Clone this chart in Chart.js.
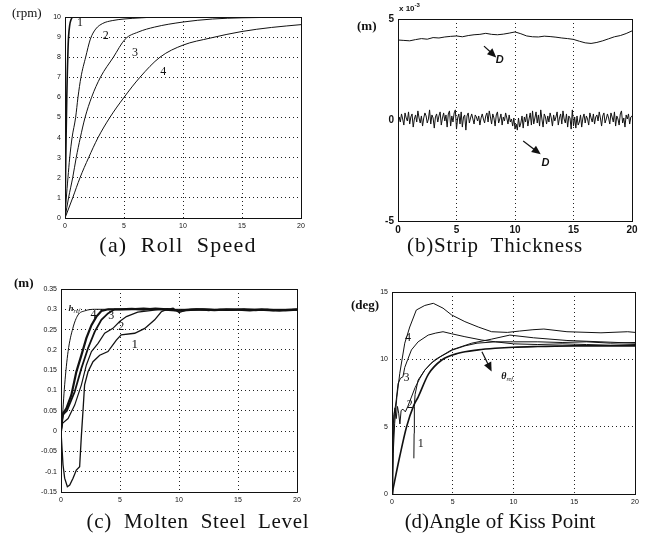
<!DOCTYPE html>
<html>
<head>
<meta charset="utf-8">
<script src="https://cdn.jsdelivr.net/npm/chart.js@4.4.1/dist/chart.umd.min.js"></script>
<style>
  body { margin: 0; background: #fff; width: 653px; height: 546px; position: relative; overflow: hidden; }
  canvas { position: absolute; }
  .title { position: absolute; font-family: "Liberation Serif", "Times New Roman", serif; font-size: 21px;
           white-space: pre; color: #111; transform: translate(-50%, -50%); }
  .unit { position: absolute; font-family: "Liberation Serif", "Times New Roman", serif; font-size: 13px;
          white-space: pre; color: #111; }
  .sci { position: absolute; font-family: "Liberation Sans", Arial, sans-serif; font-size: 8px; font-weight: bold; color: #111; }
  .sci sup { font-size: 6px; }
</style>
</head>
<body>
<canvas id="speed" width="320" height="236" style="left:0;top:0"></canvas>
<canvas id="thick" width="323" height="236" style="left:330px;top:0"></canvas>
<canvas id="level" width="320" height="248" style="left:0;top:262px"></canvas>
<canvas id="angle" width="323" height="248" style="left:330px;top:262px"></canvas>

<div class="unit" style="left:12px;top:5px">(rpm)</div>
<div class="unit" style="left:357px;top:18px;font-weight:bold">(m)</div>
<div class="sci" style="left:399px;top:2px">x 10<sup>-3</sup></div>
<div class="unit" style="left:14px;top:275px;font-weight:bold">(m)</div>
<div class="unit" style="left:351px;top:297px;font-weight:bold">(deg)</div>

<div class="title" style="left:178px;top:245px;font-size:22px;letter-spacing:1.2px">(a)  Roll  Speed</div>
<div class="title" style="left:495px;top:245px;letter-spacing:0.8px">(b)Strip  Thickness</div>
<div class="title" style="left:198px;top:521px;letter-spacing:0.7px">(c)  Molten  Steel  Level</div>
<div class="title" style="left:500px;top:521px">(d)Angle of Kiss Point</div>

<script>
const INK = '#111';

// ----------- (a) Roll speed, rpm ----------- //
const speed1X = [0, 0.05, 0.1, 0.15, 0.2, 0.25, 0.3, 0.4, 0.5, 0.7, 1, 20];
const speed1Y = [0, 2.2, 4.3, 6.0, 7.3, 8.3, 9.0, 9.6, 9.85, 10, 10, 10];
const speed2X = [0, 0.1, 0.25, 0.4, 0.6, 0.9, 1.1, 1.35, 1.75, 2.15, 2.6, 3.2, 4.0, 5.0, 6.5, 8, 20];
const speed2Y = [0, 0.9, 2.0, 3.0, 4.0, 5.0, 6.0, 7.0, 8.0, 8.9, 9.4, 9.68, 9.82, 9.9, 9.96, 10, 10];
const speed3X = [0, 0.3, 0.65, 0.95, 1.3, 1.7, 2.25, 3.0, 4.1, 5.1, 6.2, 7.6, 10, 12.5, 15, 20];
const speed3Y = [0, 1, 2, 3, 4, 5, 6, 7, 8, 8.9, 9.25, 9.5, 9.75, 9.9, 9.96, 10];
const speed4X = [0, 0.65, 1.27, 2.0, 2.8, 3.8, 5.0, 6.35, 8.05, 10, 12.3, 15, 17.5, 20];
const speed4Y = [0, 1, 2, 3, 4, 5, 6, 7, 8, 8.6, 8.95, 9.28, 9.48, 9.62];

// ----------- (b) Strip thickness, x 1e-3 m ----------- //
const thickStep = 0.5;   // s between samples of the upper trace
const thickTop = [3.96, 3.94, 3.92, 3.98, 4.03, 4.0, 4.08, 4.06, 4.11, 4.14, 4.16, 4.12, 4.18, 4.22,
  4.24, 4.29, 4.24, 4.22, 4.25, 4.3, 4.36, 4.27, 4.16, 4.12, 4.11, 4.15, 4.13, 4.1, 4.06, 4.03,
  3.99, 3.9, 3.82, 3.79, 3.84, 3.92, 4.02, 4.12, 4.18, 4.28, 4.41];
const noiseStep = 0.1;   // s between samples of the deviation trace
const thickDev = [
  -0.3, 0.15, -0.1, 0.3, 0.05, -0.25, 0.35, 0.1, -0.05, 0.4, -0.2, 0.15, 0.3, -0.35, 0.05, 0.25, -0.1, 0.45, 0.1, -0.15,
  0.2, -0.3, 0.1, 0.35, 0.2, -0.15, 0.05, 0.5, -0.2, 0.25, 0.1, -0.4, 0.15, 0.3, -0.1, 0.2, 0.4, -0.25, 0.1, 0.35,
  -0.05, 0.25, -0.35, 0.3, 0.45, -0.3, 0.2, -0.1, 0.35, 0.5, -0.45, 0.1, 0.3, -0.2, 0.4, -0.35, 0.15, 0.25, -0.5, 0.2,
  0.35, -0.15, 0.1, 0.3, 0.05, -0.2, 0.25, 0.15, -0.05, 0.2, -0.25, 0.1, 0.3, 0.05, -0.15, 0.2, 0.35, -0.1, 0.45, 0.15,
  -0.2, 0.3, 0.1, -0.3, 0.25, 0.4, -0.15, 0.05, 0.3, -0.25, 0.15, -0.05, 0.35, 0.1, -0.2, 0.25, -0.1, 0.05, -0.3, 0.1,
  -0.45, -0.2, -0.5, 0.1, -0.35, -0.15, 0.2, -0.4, 0.15, -0.1, 0.3, -0.3, 0.05, 0.35, -0.25, 0.45, -0.2, 0.1, 0.4, -0.15,
  0.25, -0.3, 0.5, 0.05, -0.35, 0.3, 0.15, -0.2, 0.2, -0.1, 0.35, 0.1, -0.3, 0.25, -0.05, 0.15, 0.4, -0.25, 0.1, 0.3,
  -0.2, 0.45, 0.05, -0.15, 0.3, -0.35, 0.2, 0.1, -0.45, 0.5, -0.3, 0.15, -0.4, 0.2, -0.25, -0.1, 0.25, -0.35, 0.1, 0.3,
  -0.15, 0.2, 0.05, -0.25, 0.35, 0.1, -0.1, 0.3, -0.2, 0.15, 0.25, -0.05, 0.4, 0.1, -0.3, 0.2, 0.35, -0.15, 0.05, 0.3,
  0.1, -0.2, 0.35, 0.15, -0.1, 0.4, -0.3, 0.2, 0.05, -0.25, 0.3, 0.45, -0.15, 0.1, -0.35, 0.25, 0.05, 0.3, -0.2, 0.15,
  0.2];

// ----------- (c) Molten steel level, m ----------- //
const levelRefX = [0, 0.08, 0.31, 0.6, 1.0, 1.44, 2.0, 2.86, 20];
const levelRefY = [0, 0.02, 0.114, 0.196, 0.253, 0.286, 0.296, 0.3, 0.3];
const level1X = [0, 0.17, 0.31, 0.54, 0.74, 1.02, 1.3, 1.58, 1.73, 1.86, 2.0, 2.29, 2.71, 3.28, 3.98, 4.69, 5.1,
  6.25, 7.1, 7.94, 8.5, 9.0, 9.5, 10.0, 10.6, 11.5, 12.5, 13.5, 14.5, 15.5, 16.5, 17.5, 18.5, 19.5, 20];
const level1Y = [0, -0.083, -0.116, -0.137, -0.133, -0.116, -0.096, -0.088, -0.01, 0.048, 0.114, 0.146, 0.171,
  0.187, 0.196, 0.224, 0.237, 0.241, 0.253, 0.274, 0.294, 0.3, 0.303, 0.292, 0.298, 0.301, 0.297, 0.3, 0.298,
  0.301, 0.297, 0.3, 0.296, 0.299, 0.298];
const level2X = [0, 0.15, 0.6, 1.16, 1.73, 2.15, 2.58, 3.14, 3.7, 4.4, 4.97, 5.54, 6.5, 7.9, 9, 10, 11, 13, 15, 17, 20];
const level2Y = [0, 0.02, 0.031, 0.064, 0.114, 0.163, 0.196, 0.216, 0.241, 0.253, 0.27, 0.282, 0.293, 0.298,
  0.302, 0.297, 0.3, 0.299, 0.3, 0.298, 0.3];
const level3X = [0, 0.15, 0.5, 1.16, 1.73, 2.29, 2.86, 3.42, 3.98, 4.55, 5.5, 7, 8.5, 10, 12, 14, 16, 18, 20];
const level3Y = [0, 0.04, 0.05, 0.097, 0.155, 0.204, 0.245, 0.274, 0.29, 0.3, 0.3, 0.302, 0.299, 0.296, 0.3,
  0.298, 0.3, 0.297, 0.3];
const level4X = [0, 0.1, 0.2, 0.46, 0.88, 1.3, 1.73, 2.15, 2.58, 3.0, 3.42, 4.0, 5, 6, 7, 8, 9, 10, 11, 12, 13,
  14, 15, 16, 17, 18, 19, 20];
const level4Y = [0, 0.03, 0.045, 0.056, 0.089, 0.146, 0.187, 0.229, 0.261, 0.282, 0.296, 0.3, 0.3, 0.301, 0.299,
  0.302, 0.3, 0.297, 0.299, 0.3, 0.298, 0.3, 0.299, 0.297, 0.3, 0.298, 0.297, 0.299];

// ----------- (d) Angle of kiss point, deg ----------- //
const angleRefX = [0, 0.64, 1.2, 1.8, 2.15, 3.0, 4.1, 5.45, 7.1, 8.5, 10, 12, 15, 20];
const angleRefY = [0, 2.8, 5.0, 6.6, 7.2, 8.9, 9.95, 10.45, 10.7, 10.82, 10.9, 10.95, 11.0, 11.0];
const angle1X = [1.8, 1.82, 1.84, 1.9, 2.15, 2.7, 3.5, 4.9, 6.56, 8.2, 9.7, 11.65, 14.4, 17.2, 20];
const angle1Y = [2.65, 4.5, 6.5, 7.4, 8.46, 9.2, 9.95, 10.7, 11.2, 11.5, 11.8, 11.6, 11.4, 11.3, 11.2];
const angle2X = [0, 0.08, 0.15, 0.25, 0.35, 0.45, 0.55, 0.65, 0.75, 0.9, 1.1, 1.3, 1.6, 1.9, 2.3, 2.7, 3.2, 4,
  5, 6, 7, 8.5, 10, 12, 14, 16, 18, 20];
const angle2Y = [0, 4.5, 5.9, 6.4, 5.6, 6.5, 6.0, 5.2, 6.2, 6.3, 6.1, 6.5, 7.2, 7.9, 8.6, 9.2, 9.7, 10.2, 10.7,
  11.0, 11.2, 11.3, 11.3, 11.3, 11.25, 11.3, 11.2, 11.25];
const angle3X = [0, 0.1, 0.2, 0.35, 0.5, 0.7, 0.9, 1.05, 1.3, 1.6, 2.15, 2.98, 3.6, 4.2, 4.9, 6.0, 7.4, 8.5, 10,
  12, 14, 16, 18, 20];
const angle3Y = [0, 4, 6.0, 7.0, 8.2, 8.6, 8.7, 9.4, 10.0, 10.7, 11.3, 11.8, 11.95, 12.05, 11.9, 11.68, 11.43,
  11.3, 11.15, 11.1, 11.15, 11.1, 11.05, 11.1];
const angle4X = [0, 0.1, 0.22, 0.4, 0.64, 1.05, 1.46, 2.0, 2.7, 3.4, 4.2, 4.9, 6.0, 7.1, 8.2, 9.5, 10.5, 11.6,
  12.5, 14.4, 17.2, 19.4, 20];
const angle4Y = [0, 3, 5.25, 7.2, 8.96, 11.2, 12.4, 13.66, 14.0, 14.16, 13.8, 13.3, 12.8, 12.4, 12.05, 12.0,
  12.1, 12.2, 12.25, 12.05, 11.97, 12.05, 12.0];


// ----------- helpers ----------- //
const pairs = (xs, ys) => xs.map((x, i) => ({x, y: ys[i]}));
const sampled = (step, ys) => ys.map((y, i) => ({x: i * step, y}));

const curve = (data, width = 1, smooth = false) => ({
  data,
  borderColor: INK,
  borderWidth: width,
  pointRadius: 0,
  fill: false,
  tension: 0,
  cubicInterpolationMode: smooth ? 'monotone' : 'default',
});

const framePlugin = {
  id: 'frame',
  afterDraw(chart) {
    const {ctx, chartArea: {left, top, right, bottom}} = chart;
    ctx.save();
    ctx.strokeStyle = INK;
    ctx.lineWidth = 1;
    ctx.strokeRect(Math.round(left) + 0.5, Math.round(top) + 0.5, Math.round(right - left), Math.round(bottom - top));
    ctx.restore();
  }
};

// labels and arrows placed in data units
const notesPlugin = (notes = [], arrows = []) => ({
  id: 'notes',
  afterDraw(chart) {
    const {ctx, scales: {x, y}} = chart;
    ctx.save();
    ctx.fillStyle = INK;
    ctx.strokeStyle = INK;
    arrows.forEach(a => {
      const x1 = x.getPixelForValue(a.from[0]), y1 = y.getPixelForValue(a.from[1]);
      const x2 = x.getPixelForValue(a.to[0]), y2 = y.getPixelForValue(a.to[1]);
      const ang = Math.atan2(y2 - y1, x2 - x1);
      const c = Math.cos(ang), s = Math.sin(ang);
      ctx.lineWidth = 1.2;
      ctx.beginPath();
      ctx.moveTo(x1, y1);
      ctx.lineTo(x2 - 6 * c, y2 - 6 * s);
      ctx.stroke();
      ctx.beginPath();
      ctx.moveTo(x2, y2);
      ctx.lineTo(x2 - 9 * c + 4 * s, y2 - 9 * s - 4 * c);
      ctx.lineTo(x2 - 9 * c - 4 * s, y2 - 9 * s + 4 * c);
      ctx.closePath();
      ctx.fill();
    });
    notes.forEach(n => {
      const px = x.getPixelForValue(n.x), py = y.getPixelForValue(n.y);
      ctx.font = n.font || '12px "Liberation Serif"';
      ctx.textAlign = 'center';
      ctx.textBaseline = 'middle';
      ctx.fillText(n.text, px, py);
      if (n.sub) {
        const w = ctx.measureText(n.text).width;
        ctx.font = n.subFont || 'italic 6px "Liberation Serif"';
        ctx.textAlign = 'left';
        ctx.fillText(n.sub, px + w / 2, py + 3);
      }
    });
    ctx.restore();
  }
});

const makeChart = (id, datasets, s) => new Chart(document.getElementById(id), {
  type: 'line',
  data: { datasets },
  options: {
    responsive: false,
    animation: false,
    events: [],
    layout: { padding: s.padding },
    plugins: { legend: { display: false }, tooltip: { enabled: false } },
    scales: {
      x: {
        type: 'linear', min: 0, max: 20,
        ticks: { stepSize: 5, font: s.font, color: INK, padding: s.xPad, maxRotation: 0, autoSkip: false },
        grid: { color: '#222', lineWidth: 1, drawTicks: false },
        border: { display: false, dash: [1, 3] },
        afterFit: scale => { scale.height = s.xHeight; }
      },
      y: {
        type: 'linear', min: s.yMin, max: s.yMax,
        ticks: { stepSize: s.yStep, font: s.font, color: INK, padding: 4, autoSkip: false,
                 callback: v => String(Math.round(v * 100) / 100) },
        grid: { display: s.yGrid !== false, color: '#222', lineWidth: 1, drawTicks: false },
        border: { display: false, dash: [1, 3] },
        afterFit: scale => { scale.width = s.yWidth; }
      }
    }
  },
  plugins: [framePlugin, notesPlugin(s.notes, s.arrows)]
});

const smallFont = { family: '"Liberation Sans", Arial, sans-serif', size: 7 };
const boldFont = { family: '"Liberation Sans", Arial, sans-serif', size: 10, weight: 'bold' };

makeChart('speed', [
  curve(pairs(speed1X, speed1Y), 1.6, true),
  curve(pairs(speed2X, speed2Y), 1, true),
  curve(pairs(speed3X, speed3Y), 1, true),
  curve(pairs(speed4X, speed4Y), 1, true),
], {
  padding: { top: 17, right: 19 }, yWidth: 65, xHeight: 18, xPad: 4,
  yMin: 0, yMax: 10, yStep: 1, font: smallFont,
  notes: [
    { x: 1.27, y: 9.7, text: '1' }, { x: 3.45, y: 9.05, text: '2' },
    { x: 5.93, y: 8.2, text: '3' }, { x: 8.33, y: 7.28, text: '4' },
  ],
});

makeChart('thick', [
  curve(sampled(thickStep, thickTop), 1),
  curve(sampled(noiseStep, thickDev), 1),
], {
  padding: { top: 19, right: 21 }, yWidth: 68, xHeight: 15, xPad: 3,
  yMin: -5, yMax: 5, yStep: 5, font: boldFont, yGrid: false,
  notes: [
    { x: 8.7, y: 2.95, text: 'D', font: 'italic bold 11px "Liberation Sans"' },
    { x: 12.6, y: -2.15, text: 'D', font: 'italic bold 11px "Liberation Sans"' },
  ],
  arrows: [
    { from: [7.35, 3.66], to: [8.4, 3.1] },
    { from: [10.7, -1.04], to: [12.2, -1.7] },
  ],
});

makeChart('level', [
  curve(pairs(levelRefX, levelRefY), 1, true),
  curve(pairs(level1X, level1Y), 1.3),
  curve(pairs(level2X, level2Y), 1.2),
  curve(pairs(level3X, level3Y), 1.8),
  curve(pairs(level4X, level4Y), 2.2),
], {
  padding: { top: 27, right: 23 }, yWidth: 61, xHeight: 18, xPad: 4,
  yMin: -0.15, yMax: 0.35, yStep: 0.05, font: smallFont,
  notes: [
    { x: 0.85, y: 0.302, text: 'h', font: 'italic bold 9px "Liberation Serif"', sub: 'ref' },
    { x: 2.75, y: 0.286, text: '4' }, { x: 4.25, y: 0.284, text: '3' },
    { x: 5.1, y: 0.257, text: '2' }, { x: 6.25, y: 0.212, text: '1', font: '13px "Liberation Serif"' },
  ],
});

makeChart('angle', [
  curve(pairs(angleRefX, angleRefY), 1.6, true),
  curve(pairs(angle1X, angle1Y), 1),
  curve(pairs(angle2X, angle2Y), 1),
  curve(pairs(angle3X, angle3Y), 1),
  curve(pairs(angle4X, angle4Y), 1),
], {
  padding: { top: 30, right: 18 }, yWidth: 62, xHeight: 16, xPad: 4,
  yMin: 0, yMax: 15, yStep: 5, font: smallFont,
  notes: [
    { x: 1.32, y: 11.56, text: '4' }, { x: 1.19, y: 8.66, text: '3' },
    { x: 1.46, y: 6.6, text: '2' }, { x: 2.37, y: 3.71, text: '1' },
    { x: 9.2, y: 8.7, text: 'θ', font: 'italic bold 10px "Liberation Serif"', sub: 'ref' },
  ],
  arrows: [
    { from: [7.4, 10.56], to: [8.2, 9.1] },
  ],
});
</script>
</body>
</html>
